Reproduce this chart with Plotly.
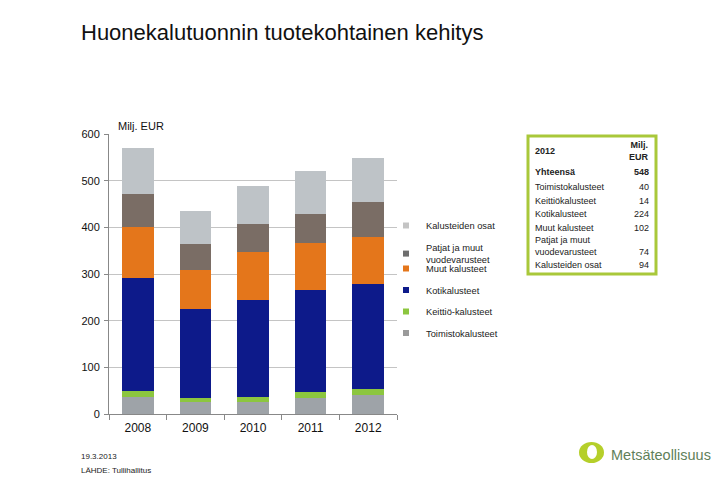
import plotly.graph_objects as go

W, H = 720, 498

years = ["2008", "2009", "2010", "2011", "2012"]
series_names = ["Toimistokalusteet", "Keittiö-kalusteet", "Kotikalusteet",
                "Muut kalusteet", "Patjat ja muut vuodevarusteet", "Kalusteiden osat"]
toimisto = [37, 25, 26, 35, 40]
keittio = [13, 10, 10, 13, 14]
koti = [241, 189, 208, 218, 224]
muut = [110, 85, 103, 100, 102]
patjat = [70, 55, 60, 63, 74]
osat = [98, 72, 82, 91, 94]
y_ticks = [0, 100, 200, 300, 400, 500, 600]

legend_labels = ["Toimistokalusteet", "Keittiö-kalusteet", "Kotikalusteet",
                 "Muut kalusteet", "Patjat ja muut<br>vuodevarusteet", "Kalusteiden osat"]
table_labels = ["Toimistokalusteet", "Keittiökalusteet", "Kotikalusteet",
                "Muut kalusteet", "Patjat ja muut<br>vuodevarusteet", "Kalusteiden osat"]

colors = ["#9ea3a8", "#8cc63f", "#0d1a8a", "#e4761b", "#7a6d65", "#bec3c7"]
legend_colors = ["#9a9a9a", "#8cc63f", "#0d1a8a", "#e4761b", "#6e6e6e", "#c4c4c4"]
values = [toimisto, keittio, koti, muut, patjat, osat]

def px(x):
    return x / W

def py(y):
    return 1 - y / H

FONT = "Liberation Sans, Arial, sans-serif"

fig = go.Figure()
for i, (name, vals) in enumerate(zip(series_names, values)):
    fig.add_trace(go.Bar(x=years, y=vals, name=name,
                         marker=dict(color=colors[i], line=dict(width=0)),
                         showlegend=False, legendgroup=f"g{i}"))
# legend entries, top to bottom; top two in first legend, rest in second
for i in reversed(range(len(legend_labels))):
    fig.add_trace(go.Scatter(x=[None], y=[None], mode="markers", name=legend_labels[i],
                             marker=dict(symbol="square", size=6, color=legend_colors[i]),
                             legendgroup=f"g{i}", showlegend=True,
                             legend="legend" if i >= 4 else "legend2"))

annotations = [
    dict(text="Huonekalutuonnin tuotekohtainen kehitys", x=px(79), y=py(32),
         xanchor="left", yanchor="middle", font=dict(size=22, color="#111")),
    dict(text="Milj. EUR", x=px(116), y=py(126),
         xanchor="left", yanchor="middle", font=dict(size=11, color="#111")),
    dict(text="19.3.2013", x=px(79), y=py(456),
         xanchor="left", yanchor="middle", font=dict(size=8, color="#222")),
    dict(text="LÄHDE: Tullihallitus", x=px(79), y=py(470),
         xanchor="left", yanchor="middle", font=dict(size=8, color="#222")),
    dict(text="Metsäteollisuus", x=px(609), y=py(455),
         xanchor="left", yanchor="middle", font=dict(size=14.5, color="#5f7f5a")),
]

# 2012 table
idx = years.index("2012")
vals_2012 = [v[idx] for v in values]
XL, XR = 533, 651
tfont = dict(size=9, color="#222")
annotations += [
    dict(text="<b>2012</b>", x=px(XL), y=py(151), xanchor="left", yanchor="middle", font=tfont),
    dict(text="<b>Milj.<br>EUR</b>", x=px(XR), y=py(150.5), xanchor="right", yanchor="middle",
         align="right", font=tfont),
    dict(text="<b>Yhteensä</b>", x=px(XL), y=py(172), xanchor="left", yanchor="middle", font=tfont),
    dict(text=f"<b>{sum(vals_2012)}</b>", x=px(XR), y=py(172), xanchor="right", yanchor="middle", font=tfont),
]
top = 180.25
for lab, v in zip(table_labels, vals_2012):
    nlines = lab.count("<br>") + 1
    h = 13.5 if nlines == 1 else 24
    c = top + h / 2
    annotations.append(dict(text=lab, x=px(XL), y=py(c), xanchor="left", yanchor="middle",
                            align="left", font=tfont))
    vy = c if nlines == 1 else c + 5.5
    annotations.append(dict(text=str(v), x=px(XR), y=py(vy), xanchor="right", yanchor="middle",
                            font=tfont))
    top += h

for a in annotations:
    a.update(xref="paper", yref="paper", showarrow=False)

legend_common = dict(xanchor="left", yanchor="top", traceorder="grouped",
                     font=dict(family=FONT, size=9.3, color="#222"), bgcolor="rgba(0,0,0,0)")

fig.update_layout(
    width=W, height=H,
    margin=dict(l=0, r=0, t=0, b=0, autoexpand=False),
    paper_bgcolor="white", plot_bgcolor="white",
    barmode="stack", bargap=0.45,
    font=dict(family=FONT, color="#222"),
    xaxis=dict(domain=[px(109), px(397)], showline=True, linecolor="#888", linewidth=1,
               ticks="outside", tickson="boundaries", ticklen=5, tickcolor="#888",
               ticklabelstandoff=3, automargin=False,
               tickfont=dict(size=12, color="#111")),
    yaxis=dict(domain=[py(414), py(134)], range=[0, 600], tickvals=y_ticks,
               showline=True, linecolor="#888", linewidth=1,
               ticks="outside", ticklen=4, tickcolor="#888", automargin=False,
               ticklabelstandoff=2,
               gridcolor="#c4c4c4", gridwidth=1, zeroline=False,
               tickfont=dict(size=11, color="#111")),
    legend=dict(x=px(386), y=py(211), tracegroupgap=5, **legend_common),
    legend2=dict(x=px(386), y=py(254), tracegroupgap=2.5, **legend_common),
    annotations=annotations,
    shapes=[
        dict(type="rect", xref="paper", yref="paper", x0=px(528), x1=px(656), y0=py(274), y1=py(136),
             line=dict(color="#a9c83a", width=3), fillcolor="rgba(0,0,0,0)"),
        dict(type="circle", xref="paper", yref="paper", x0=px(579), x1=px(604), y0=py(463), y1=py(442),
             fillcolor="#b5cf2a", line=dict(width=0)),
        dict(type="circle", xref="paper", yref="paper", x0=px(587), x1=px(597), y0=py(459), y1=py(445),
             fillcolor="white", line=dict(width=0)),
    ],
)

fig.write_html("out.html", config={"displayModeBar": False},
               post_script="document.body.style.margin='0';")
